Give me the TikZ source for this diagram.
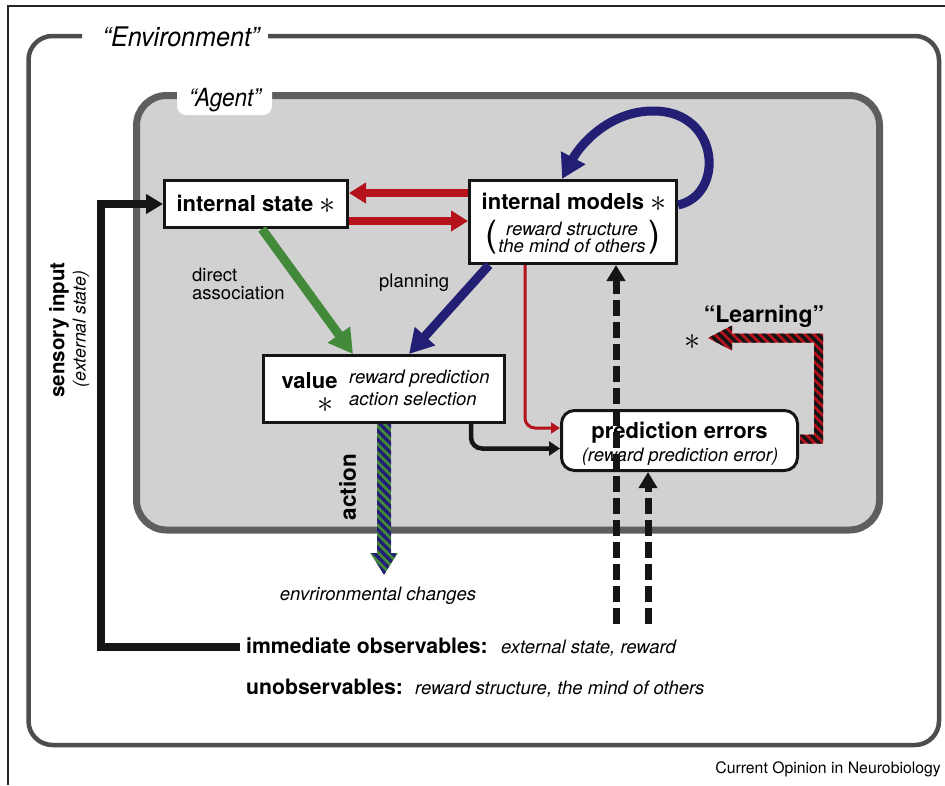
\RequirePackage{fix-cm}
\documentclass[tikz,border=0pt]{standalone}
\usepackage{fontspec}
\setmainfont{TeX Gyre Heros}
\usetikzlibrary{arrows.meta,calc}
\definecolor{cred}{HTML}{B5121B}
\definecolor{cnavy}{HTML}{231F74}
\definecolor{cgreen}{HTML}{43893A}
\definecolor{cblk}{HTML}{151515}
\definecolor{cenv}{HTML}{4D4D4D}
\definecolor{cagb}{HTML}{5E5E5E}
\definecolor{cagf}{HTML}{D1D1D1}
\newcommand{\bigast}{\raisebox{-2pt}{\fontseries{m}\fontsize{32}{32}\selectfont$\ast$}}
\begin{document}
\begin{tikzpicture}[x=1pt,y=-1pt,
  boxnode/.style={draw=cblk,line width=3pt,fill=white,inner sep=0pt},
  ttl/.style={font=\fontsize{22}{26}\selectfont\bfseries,inner sep=0pt},
  itl/.style={font=\fontsize{18.5}{20}\selectfont\itshape,inner sep=0pt},
  lab/.style={font=\fontsize{18.5}{18}\selectfont,inner sep=0pt},
  astn/.style={font=\fontsize{32}{32}\selectfont,inner sep=0pt},
  bld/.style={font=\fontsize{21.2}{24}\selectfont\bfseries,inner sep=0pt},
  redarr/.style={draw=cred,fill=cred,line width=8pt,-{Triangle[length=17pt,width=20pt]}},
  bigarr/.style={line width=9pt,-{Triangle[length=24pt,width=26pt]}},
  dasharr/.style={cblk,line width=7pt,dash pattern=on 16pt off 6pt,-{Triangle[length=16pt,width=18pt]}},
]
\useasboundingbox (0,0) rectangle (945,785);
% outer frame
\draw[black!85,line width=1.3pt] (8,785) -- (8,6) -- (945,6);
% environment
\draw[cenv,line width=4.5pt,rounded corners=24pt] (82,36) -- (28.5,36) -- (28.5,745) -- (939,745) -- (939,36) -- (268,36);
\node[font=\fontsize{27}{30}\selectfont\itshape,xscale=0.93,anchor=base,inner sep=0pt] (envlab) at (181,46) {“Environment”};
% agent
\draw[cagb,fill=cagf,line width=7pt,rounded corners=30pt] (136.5,95.5) rectangle (879.5,530);
\fill[white,rounded corners=9pt] (177,80) rectangle (272,115);
\node[font=\fontsize{25}{28}\selectfont\itshape,xscale=0.9,anchor=base,inner sep=0pt] (aglab) at (225,106) {“Agent”};

% boxes
\node[boxnode,ttl,minimum width=183pt,minimum height=47pt] (st) at (256,204) {internal state \bigast};
\node[boxnode,minimum width=207pt,minimum height=83pt] (im) at (573,222) {};
\node[boxnode,minimum width=241pt,minimum height=67pt] (val) at (384,389) {};
\node[boxnode,rounded corners=13pt,minimum width=236pt,minimum height=60pt] (pe) at (679.5,440.5) {};

% texts in boxes
\node[ttl,anchor=base] (imt) at (574,209) {internal models \bigast};
\node[itl,anchor=base] (im1) at (572,235) {reward structure};
\node[itl,anchor=base] (im2) at (572,252) {the mind of others};
\node[font=\fontsize{36}{36}\selectfont,inner sep=0pt] (lp) at (491,237) {(};
\node[font=\fontsize{36}{36}\selectfont,inner sep=0pt] (rp) at (654,237) {)};
\node[ttl,anchor=base] (vt) at (309.5,388) {value};
\node[astn] (va) at (325,405) {$\ast$};
\node[itl,anchor=base west] (v1) at (349,383) {reward prediction};
\node[itl,anchor=base west] (v2) at (349,405) {action selection};
\node[ttl,anchor=base] (pet) at (679.5,438) {prediction errors};
\node[itl,anchor=base] (pe1) at (680,461) {(reward prediction error)};

% labels
\node[lab,align=left,anchor=west] (da) at (192,284) {direct\\association};
\node[lab,anchor=base west] (pl) at (379,287) {planning};
\node[font=\fontsize{23}{26}\selectfont\bfseries,anchor=base,inner sep=0pt] (lrn) at (764,322) {“Learning”};
\node[astn] (la) at (692,342) {$\ast$};
\node[font=\fontsize{22.5}{26}\selectfont\bfseries,rotate=90,inner sep=0pt] (act) at (347.5,487) {action};
\node[font=\fontsize{20.5}{24}\selectfont\bfseries,rotate=90,inner sep=0pt] (si) at (59,330) {sensory input};
\node[font=\fontsize{17.7}{20}\selectfont\itshape,rotate=90,inner sep=0pt] (es) at (81,329) {(external state)};
\node[itl,anchor=base] (ec) at (378,600) {envrironmental changes};
\node[bld,anchor=base west] (obs) at (246,653) {immediate observables:};
\node[itl,anchor=base west] (obs2) at (501,653) {external state, reward};
\node[bld,anchor=base west] (unobs) at (246,694) {unobservables:};
\node[itl,anchor=base west] (unobs2) at (415,694) {reward structure, the mind of others};
\node[font=\fontsize{15.8}{18}\selectfont,anchor=base east,inner sep=0pt] (col) at (941,773) {Current Opinion in Neurobiology};

% red arrows between state and models
\coordinate (r1) at ($(st.east)+(0,-11)$);
\coordinate (r2) at ($(st.east)+(0,17)$);
\draw[redarr] (im.west |- r1) -- (r1);
\draw[redarr] (r2) -- (im.west |- r2);

% green and blue arrows
\draw[bigarr,cgreen] ($(st.south)+(6,0)$) -- ($(val.north)+(-31,0)$);
\draw[bigarr,cnavy] ($(im.south)+(-84,0)$) -- ($(val.north)+(25,0)$);
\draw[bigarr,cnavy] ($(im.east)+(0,-17)$) .. controls (725,195) and (720,112) .. (655,111) .. controls (610,110) and (580,145) .. ($(im.north)+(-11,0)$);

% thin arrows into prediction errors
\draw[cred,line width=3pt,rounded corners=10pt,-{Triangle[length=9pt,width=11pt]}] ($(im.south)+(-48,0)$) |- ($(pe.west)+(0,-12.5)$);
\draw[cblk,line width=4.5pt,rounded corners=11pt,-{Triangle[length=11pt,width=14pt]}] ($(val.south)+(87,0)$) |- ($(pe.west)+(0,8)$);

% dashed arrows
\coordinate (d1) at (616,624);
\coordinate (d2) at (648,624);
\draw[dasharr] (d1) -- ($(im.south)+(43,0)$);
\draw[dasharr] (d2) -- ($(pe.south)+(-31.5,0)$);

% sensory input
\draw[cblk,line width=8pt,-{Triangle[length=17pt,width=19pt]}] ($(obs.west)+(-6,2)$) -| ($(st.west)+(-62,0)$) -- (st.west);

% action arrow (green / navy stripes)
\coordinate (actend) at (384,575);
\draw[cgreen,line width=14pt,-{Triangle[length=22pt,width=26pt]}] (val.south) -- (actend);
\begin{scope}
\clip (377,424) -- (391,424) -- (391,553) -- (397,553) -- (384,575) -- (371,553) -- (377,553) -- cycle;
\foreach \c in {-260,-251,...,20} \draw[cnavy,line width=3.2pt] (330,{330-\c}) -- (440,{440-\c});
\end{scope}

% learning arrow (red / black stripes)
\fill[cred] (800,443.5) -- (823,443.5) -- (823,333.5) -- (732,333.5) -- (732,325.5) -- (708,338) -- (732,350.5) -- (732,342.5) -- (814,342.5) -- (814,434.5) -- (800,434.5) -- cycle;
\begin{scope}
\clip (800,443.5) -- (823,443.5) -- (823,333.5) -- (732,333.5) -- (732,325.5) -- (708,338) -- (732,350.5) -- (732,342.5) -- (814,342.5) -- (814,434.5) -- (800,434.5) -- cycle;
\foreach \c in {250,259,...,510} \draw[cblk,line width=3.4pt] (690,{690-\c}) -- (840,{840-\c});
\end{scope}
\end{tikzpicture}
\end{document}
